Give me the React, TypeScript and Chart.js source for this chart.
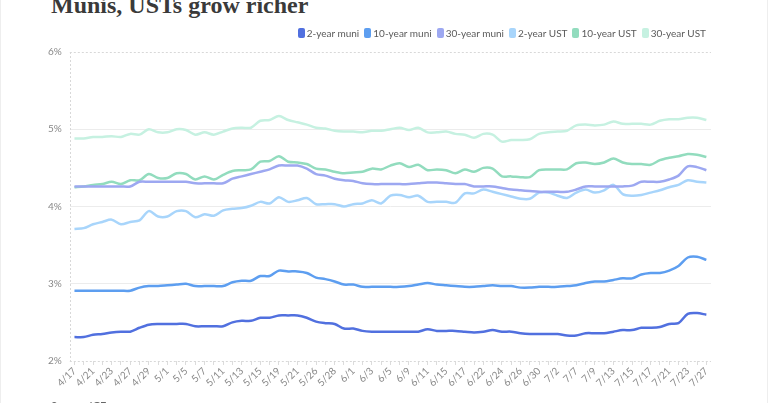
import React, { useEffect, useRef } from "react";
import { Chart, registerables } from "chart.js";

Chart.register(...registerables);

// Trading days, April 17 – July 27
const dates = [
  "4/17", "4/20", "4/21", "4/22", "4/23", "4/24", "4/27", "4/28", "4/29", "4/30",
  "5/1", "5/4", "5/5", "5/6", "5/7", "5/8", "5/11", "5/12", "5/13", "5/14",
  "5/15", "5/18", "5/19", "5/20", "5/21", "5/22", "5/26", "5/27", "5/28", "5/29",
  "6/1", "6/2", "6/3", "6/4", "6/5", "6/8", "6/9", "6/10", "6/11", "6/12",
  "6/15", "6/16", "6/17", "6/18", "6/22", "6/23", "6/24", "6/25", "6/26", "6/29",
  "6/30", "7/1", "7/2", "7/6", "7/7", "7/8", "7/9", "7/10", "7/13", "7/14",
  "7/15", "7/16", "7/17", "7/20", "7/21", "7/22", "7/23", "7/24", "7/27",
];

const muni2 = [
  2.31, 2.31, 2.34, 2.35, 2.37, 2.38, 2.38, 2.43, 2.47, 2.48,
  2.48, 2.48, 2.48, 2.45, 2.45, 2.45, 2.45, 2.50, 2.52, 2.52,
  2.56, 2.56, 2.59, 2.59, 2.59, 2.56, 2.51, 2.49, 2.48, 2.42,
  2.42, 2.39, 2.38, 2.38, 2.38, 2.38, 2.38, 2.38, 2.41, 2.39,
  2.39, 2.39, 2.38, 2.37, 2.38, 2.40, 2.38, 2.38, 2.36, 2.35,
  2.35, 2.35, 2.35, 2.33, 2.33, 2.36, 2.36, 2.36, 2.38, 2.40,
  2.40, 2.43, 2.43, 2.44, 2.48, 2.49, 2.61, 2.62, 2.60,
];

const muni10 = [
  2.91, 2.91, 2.91, 2.91, 2.91, 2.91, 2.91, 2.95, 2.97, 2.97,
  2.98, 2.99, 3.00, 2.97, 2.97, 2.97, 2.97, 3.02, 3.04, 3.04,
  3.10, 3.10, 3.17, 3.16, 3.16, 3.14, 3.08, 3.06, 3.03, 2.99,
  2.99, 2.96, 2.96, 2.96, 2.96, 2.96, 2.97, 2.99, 3.01, 2.99,
  2.98, 2.97, 2.96, 2.96, 2.97, 2.98, 2.97, 2.97, 2.95, 2.95,
  2.96, 2.96, 2.96, 2.97, 2.98, 3.01, 3.03, 3.03, 3.05, 3.07,
  3.07, 3.12, 3.14, 3.14, 3.17, 3.23, 3.34, 3.35, 3.31,
];

const muni30 = [
  4.26, 4.26, 4.26, 4.26, 4.26, 4.26, 4.26, 4.32, 4.32, 4.32,
  4.32, 4.32, 4.32, 4.30, 4.30, 4.30, 4.30, 4.36, 4.39, 4.42,
  4.45, 4.48, 4.53, 4.53, 4.53, 4.49, 4.42, 4.40, 4.36, 4.34,
  4.33, 4.30, 4.29, 4.29, 4.29, 4.29, 4.29, 4.30, 4.31, 4.31,
  4.30, 4.29, 4.29, 4.26, 4.26, 4.26, 4.24, 4.22, 4.21, 4.20,
  4.19, 4.19, 4.19, 4.19, 4.22, 4.26, 4.26, 4.26, 4.26, 4.26,
  4.27, 4.32, 4.32, 4.32, 4.35, 4.40, 4.52, 4.51, 4.47,
];

const ust2 = [
  3.71, 3.72, 3.77, 3.80, 3.83, 3.77, 3.80, 3.82, 3.94, 3.87,
  3.87, 3.94, 3.94, 3.86, 3.90, 3.88, 3.95, 3.97, 3.98, 4.01,
  4.06, 4.04, 4.12, 4.06, 4.08, 4.11, 4.03, 4.03, 4.03, 4.00,
  4.03, 4.04, 4.08, 4.04, 4.14, 4.15, 4.12, 4.14, 4.06, 4.06,
  4.06, 4.05, 4.17, 4.17, 4.22, 4.19, 4.16, 4.13, 4.10, 4.10,
  4.18, 4.18, 4.14, 4.11, 4.18, 4.22, 4.18, 4.21, 4.28, 4.16,
  4.14, 4.15, 4.18, 4.21, 4.25, 4.28, 4.34, 4.32, 4.31,
];

const ust10 = [
  4.25, 4.26, 4.28, 4.29, 4.32, 4.29, 4.34, 4.34, 4.42, 4.37,
  4.37, 4.43, 4.42, 4.35, 4.39, 4.35, 4.41, 4.46, 4.47, 4.48,
  4.58, 4.59, 4.65, 4.58, 4.57, 4.55, 4.49, 4.48, 4.45, 4.43,
  4.44, 4.45, 4.49, 4.48, 4.53, 4.56, 4.51, 4.54, 4.47, 4.48,
  4.47, 4.43, 4.48, 4.45, 4.50, 4.49, 4.39, 4.39, 4.38, 4.38,
  4.47, 4.48, 4.48, 4.48, 4.56, 4.57, 4.55, 4.57, 4.62, 4.57,
  4.55, 4.55, 4.54, 4.60, 4.63, 4.65, 4.68, 4.67, 4.64,
];

const ust30 = [
  4.88, 4.88, 4.90, 4.90, 4.91, 4.90, 4.94, 4.93, 5.00, 4.96,
  4.96, 5.00, 4.99, 4.93, 4.96, 4.93, 4.97, 5.01, 5.02, 5.02,
  5.11, 5.12, 5.17, 5.12, 5.09, 5.06, 5.02, 5.01, 4.98, 4.97,
  4.97, 4.96, 4.98, 4.98, 5.00, 5.02, 4.99, 5.02, 4.96, 4.96,
  4.97, 4.94, 4.93, 4.89, 4.94, 4.93, 4.84, 4.86, 4.86, 4.87,
  4.94, 4.96, 4.97, 4.98, 5.05, 5.06, 5.05, 5.06, 5.10, 5.07,
  5.07, 5.07, 5.06, 5.11, 5.13, 5.13, 5.15, 5.15, 5.12,
];

const seriesNames = ["2-year muni", "10-year muni", "30-year muni", "2-year UST", "10-year UST", "30-year UST"];
const seriesValues = [muni2, muni10, muni30, ust2, ust10, ust30];
const seriesColors = ["#5170df", "#5d9ef0", "#9da8f1", "#a8d5fb", "#92dcbe", "#c6f1e1"];

const yTicks = [2, 3, 4, 5, 6];

// Dotted frame along the left, top and bottom of the plot area
const dottedFrame = {
  id: "dottedFrame",
  beforeDatasetsDraw(chart: any) {
    const { ctx, chartArea } = chart;
    const { left, right, top, bottom } = chartArea;
    ctx.save();
    ctx.strokeStyle = "#d8d8d8";
    ctx.lineWidth = 1;
    ctx.setLineDash([2, 2]);
    ctx.beginPath();
    ctx.moveTo(Math.round(left) + 0.5, top);
    ctx.lineTo(Math.round(left) + 0.5, bottom);
    ctx.moveTo(left, Math.round(top) + 0.5);
    ctx.lineTo(right, Math.round(top) + 0.5);
    ctx.moveTo(left, Math.round(bottom) + 0.5);
    ctx.lineTo(right, Math.round(bottom) + 0.5);
    ctx.stroke();
    ctx.restore();
  },
};

function Legend() {
  return (
    <div
      style={{
        position: "absolute",
        right: 61,
        top: 27,
        display: "flex",
        alignItems: "center",
        gap: 5,
        fontFamily: "Lato, sans-serif",
        fontSize: 10,
        lineHeight: "12px",
        color: "#5a5a5a",
        whiteSpace: "nowrap",
      }}
    >
      {seriesNames.map((name, i) => (
        <div key={name} style={{ display: "flex", alignItems: "center" }}>
          <span
            style={{
              display: "inline-block",
              width: 7,
              height: 10,
              borderRadius: 2,
              background: seriesColors[i],
              marginRight: 2,
            }}
          />
          <span>{name}</span>
        </div>
      ))}
    </div>
  );
}

function YieldChart() {
  const canvasRef = useRef<HTMLCanvasElement | null>(null);

  useEffect(() => {
    if (!canvasRef.current) return;
    const chart = new Chart(canvasRef.current, {
      type: "line",
      data: {
        labels: dates,
        datasets: seriesNames.map((name, i) => ({
          label: name,
          data: seriesValues[i],
          borderColor: seriesColors[i],
          backgroundColor: seriesColors[i],
          borderWidth: 2.5,
          pointRadius: 0,
          tension: 0.3,
          fill: false,
        })),
      },
      options: {
        animation: false,
        responsive: false,
        maintainAspectRatio: false,
        layout: { padding: { left: 39, right: 58, top: 52, bottom: 14 } },
        plugins: {
          legend: { display: false },
          tooltip: { enabled: false },
        },
        scales: {
          x: {
            offset: true,
            grid: {
              display: true,
              drawOnChartArea: false,
              drawTicks: true,
              tickLength: 4,
              tickColor: "#dcdcdc",
            },
            border: { display: false },
            ticks: {
              autoSkip: false,
              minRotation: 45,
              maxRotation: 45,
              padding: 0,
              color: "#888",
              font: { family: "Lato", size: 10 },
              callback: (_v: any, i: number) => (i % 2 === 0 ? dates[i] : ""),
            },
          },
          y: {
            min: yTicks[0],
            max: yTicks[yTicks.length - 1],
            afterBuildTicks: (axis: any) => {
              axis.ticks = yTicks.map((v) => ({ value: v }));
            },
            grid: {
              color: (c: any) =>
                c.tick && (c.tick.value === yTicks[0] || c.tick.value === yTicks[yTicks.length - 1])
                  ? "rgba(0,0,0,0)"
                  : "#ececec",
              drawTicks: false,
            },
            border: { display: false },
            ticks: {
              padding: 8,
              color: "#888",
              font: { family: "Lato", size: 10 },
              callback: (v: any) => `${v}%`,
            },
          },
        },
      },
      plugins: [dottedFrame],
    });
    return () => chart.destroy();
  }, []);

  return (
    <canvas
      ref={canvasRef}
      width={768}
      height={403}
      style={{ position: "absolute", left: 0, top: 0, width: 768, height: 403 }}
    />
  );
}

export default function App() {
  return (
    <div
      style={{
        position: "fixed",
        left: 0,
        top: 0,
        width: 768,
        height: 403,
        overflow: "hidden",
        background: "#ffffff",
        boxSizing: "border-box",
        borderLeft: "1px solid #eeeeee",
        borderRight: "1px solid #eeeeee",
      }}
    >
      <div
        style={{
          position: "absolute",
          left: 50,
          top: -7,
          fontFamily: "'Liberation Serif', serif",
          fontWeight: 700,
          fontSize: 24,
          lineHeight: "24px",
          color: "#3a3a3a",
          whiteSpace: "nowrap",
        }}
      >
        Munis, USTs grow richer
      </div>
      <YieldChart />
      <Legend />
      <div
        style={{
          position: "absolute",
          left: 50,
          top: 399,
          fontFamily: "Lato, sans-serif",
          fontSize: 11,
          lineHeight: "13px",
          color: "#666",
          whiteSpace: "nowrap",
        }}
      >
        Source: ICE
      </div>
    </div>
  );
}
